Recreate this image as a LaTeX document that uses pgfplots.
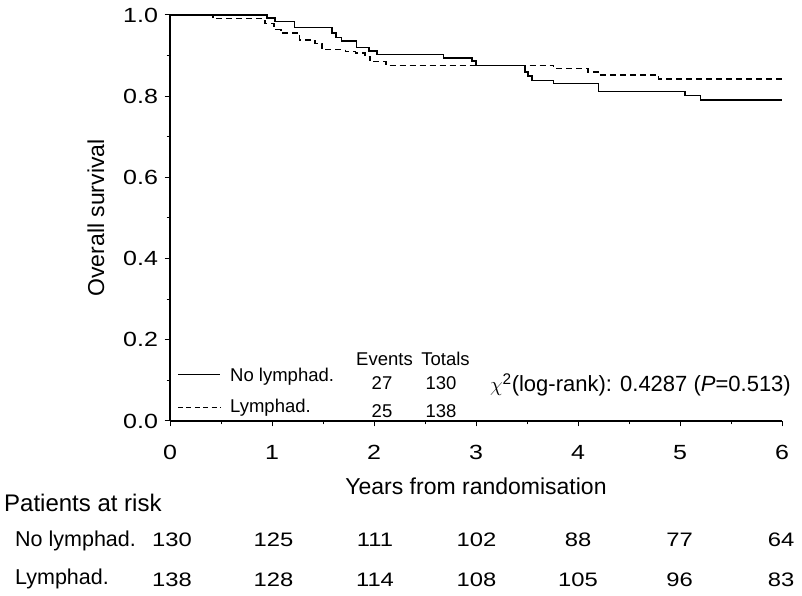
\documentclass[border=0pt]{standalone}
\usepackage{pgfplots}
\pgfplotsset{compat=1.18}
\usepackage{fontspec}
\setmainfont{Liberation Sans}
\newfontfamily\widefont[FakeStretch=1.22]{Liberation Sans}
\begin{document}
\begin{tikzpicture}[x=1bp,y=1bp]
\path[use as bounding box] (0,0) rectangle (802,596);
\begin{axis}[
  at={(170bp,175bp)}, anchor=south west,
  scale only axis, width=612bp, height=406bp,
  xmin=0, xmax=6, ymin=0, ymax=1,
  axis x line=bottom, axis y line=left,
  axis line style={-, line width=1.3bp},
  tick align=outside,
  xtick={0,1,2,3,4,5,6}, minor x tick num=1,
  ytick={0,0.2,0.4,0.6,0.8,1.0}, minor y tick num=1,
  major tick length=5.5bp, minor tick length=3.5bp,
  every tick/.style={black, line width=1bp},
  /pgf/number format/assume math mode=true,
  yticklabel style={/pgf/number format/fixed, /pgf/number format/fixed zerofill, /pgf/number format/precision=1, xshift=-3bp},
  ticklabel style={font=\widefont\fontsize{20.5bp}{23bp}\selectfont},
  xticklabel style={yshift=-15bp},
  clip=false,
]
\addplot[const plot, black, line width=1.6bp] coordinates {
(0,1.0) (0.95,0.992) (1.03,0.984) (1.22,0.969) (1.59,0.955) (1.63,0.945) (1.68,0.936)
(1.83,0.920) (1.95,0.911) (2.03,0.903) (2.68,0.894) (2.96,0.886) (3.0,0.876)
(3.48,0.860) (3.51,0.849) (3.55,0.839) (3.76,0.831) (4.2,0.812) (5.05,0.802)
(5.2,0.790) (6.0,0.790)};
\addplot[const plot, black, line width=1.6bp, dash pattern=on 6bp off 4bp] coordinates {
(0,1.0) (0.42,0.991) (0.93,0.979) (1.02,0.964) (1.09,0.956) (1.27,0.939) (1.42,0.930)
(1.49,0.915) (1.72,0.910) (1.82,0.906) (1.91,0.898) (1.96,0.885) (2.12,0.876)
(3.76,0.868) (4.10,0.860) (4.20,0.852) (4.79,0.843) (6.0,0.843)};
\end{axis}
% axis labels
\node[anchor=base, font=\fontsize{23bp}{26bp}\selectfont] at (476,101) {Years from randomisation};
\node[anchor=base, rotate=90, font=\fontsize{23bp}{26bp}\selectfont] at (104,378) {Overall survival};
% legend
\draw[black, line width=1bp] (178,221) -- (220,221);
\draw[black, line width=1bp, dash pattern=on 5bp off 3.4bp] (178,188) -- (221,188);
\begin{scope}[every node/.style={font=\fontsize{18.5bp}{20bp}\selectfont, inner sep=0pt}]
\node[anchor=base west] at (230,214) {No lymphad.};
\node[anchor=base west] at (230,183) {Lymphad.};
\node[anchor=base] at (384.5,230) {Events};
\node[anchor=base] at (445.5,230) {Totals};
\node[anchor=base] at (382,206) {27};
\node[anchor=base] at (441,206) {130};
\node[anchor=base] at (382,178) {25};
\node[anchor=base] at (441,178) {138};
\end{scope}
\node[anchor=base east, font=\fontsize{22bp}{24bp}\selectfont, inner sep=0pt] at (791,204) {$\chi$\textsuperscript{2}(log-rank): 0.4287 (\textit{P}=0.513)};
% patients at risk
\node[anchor=base west, inner sep=0pt, font=\fontsize{24bp}{26bp}\selectfont] at (4,84) {Patients at risk};
\begin{scope}[every node/.style={font=\fontsize{21.5bp}{24bp}\selectfont, inner sep=0pt}]
\node[anchor=base west] at (15,49) {No lymphad.};
\node[anchor=base west] at (15,11) {Lymphad.};
\end{scope}
\begin{scope}[every node/.style={font=\widefont\fontsize{19.5bp}{22bp}\selectfont, inner sep=0pt}]
\foreach \v [count=\i from 0] in {130,125,111,102,88,77,64}
  \node[anchor=base] at (172+101.5*\i,49) {\v};
\foreach \v [count=\i from 0] in {138,128,114,108,105,96,83}
  \node[anchor=base] at (172+101.5*\i,9) {\v};
\end{scope}
\end{tikzpicture}
\end{document}
